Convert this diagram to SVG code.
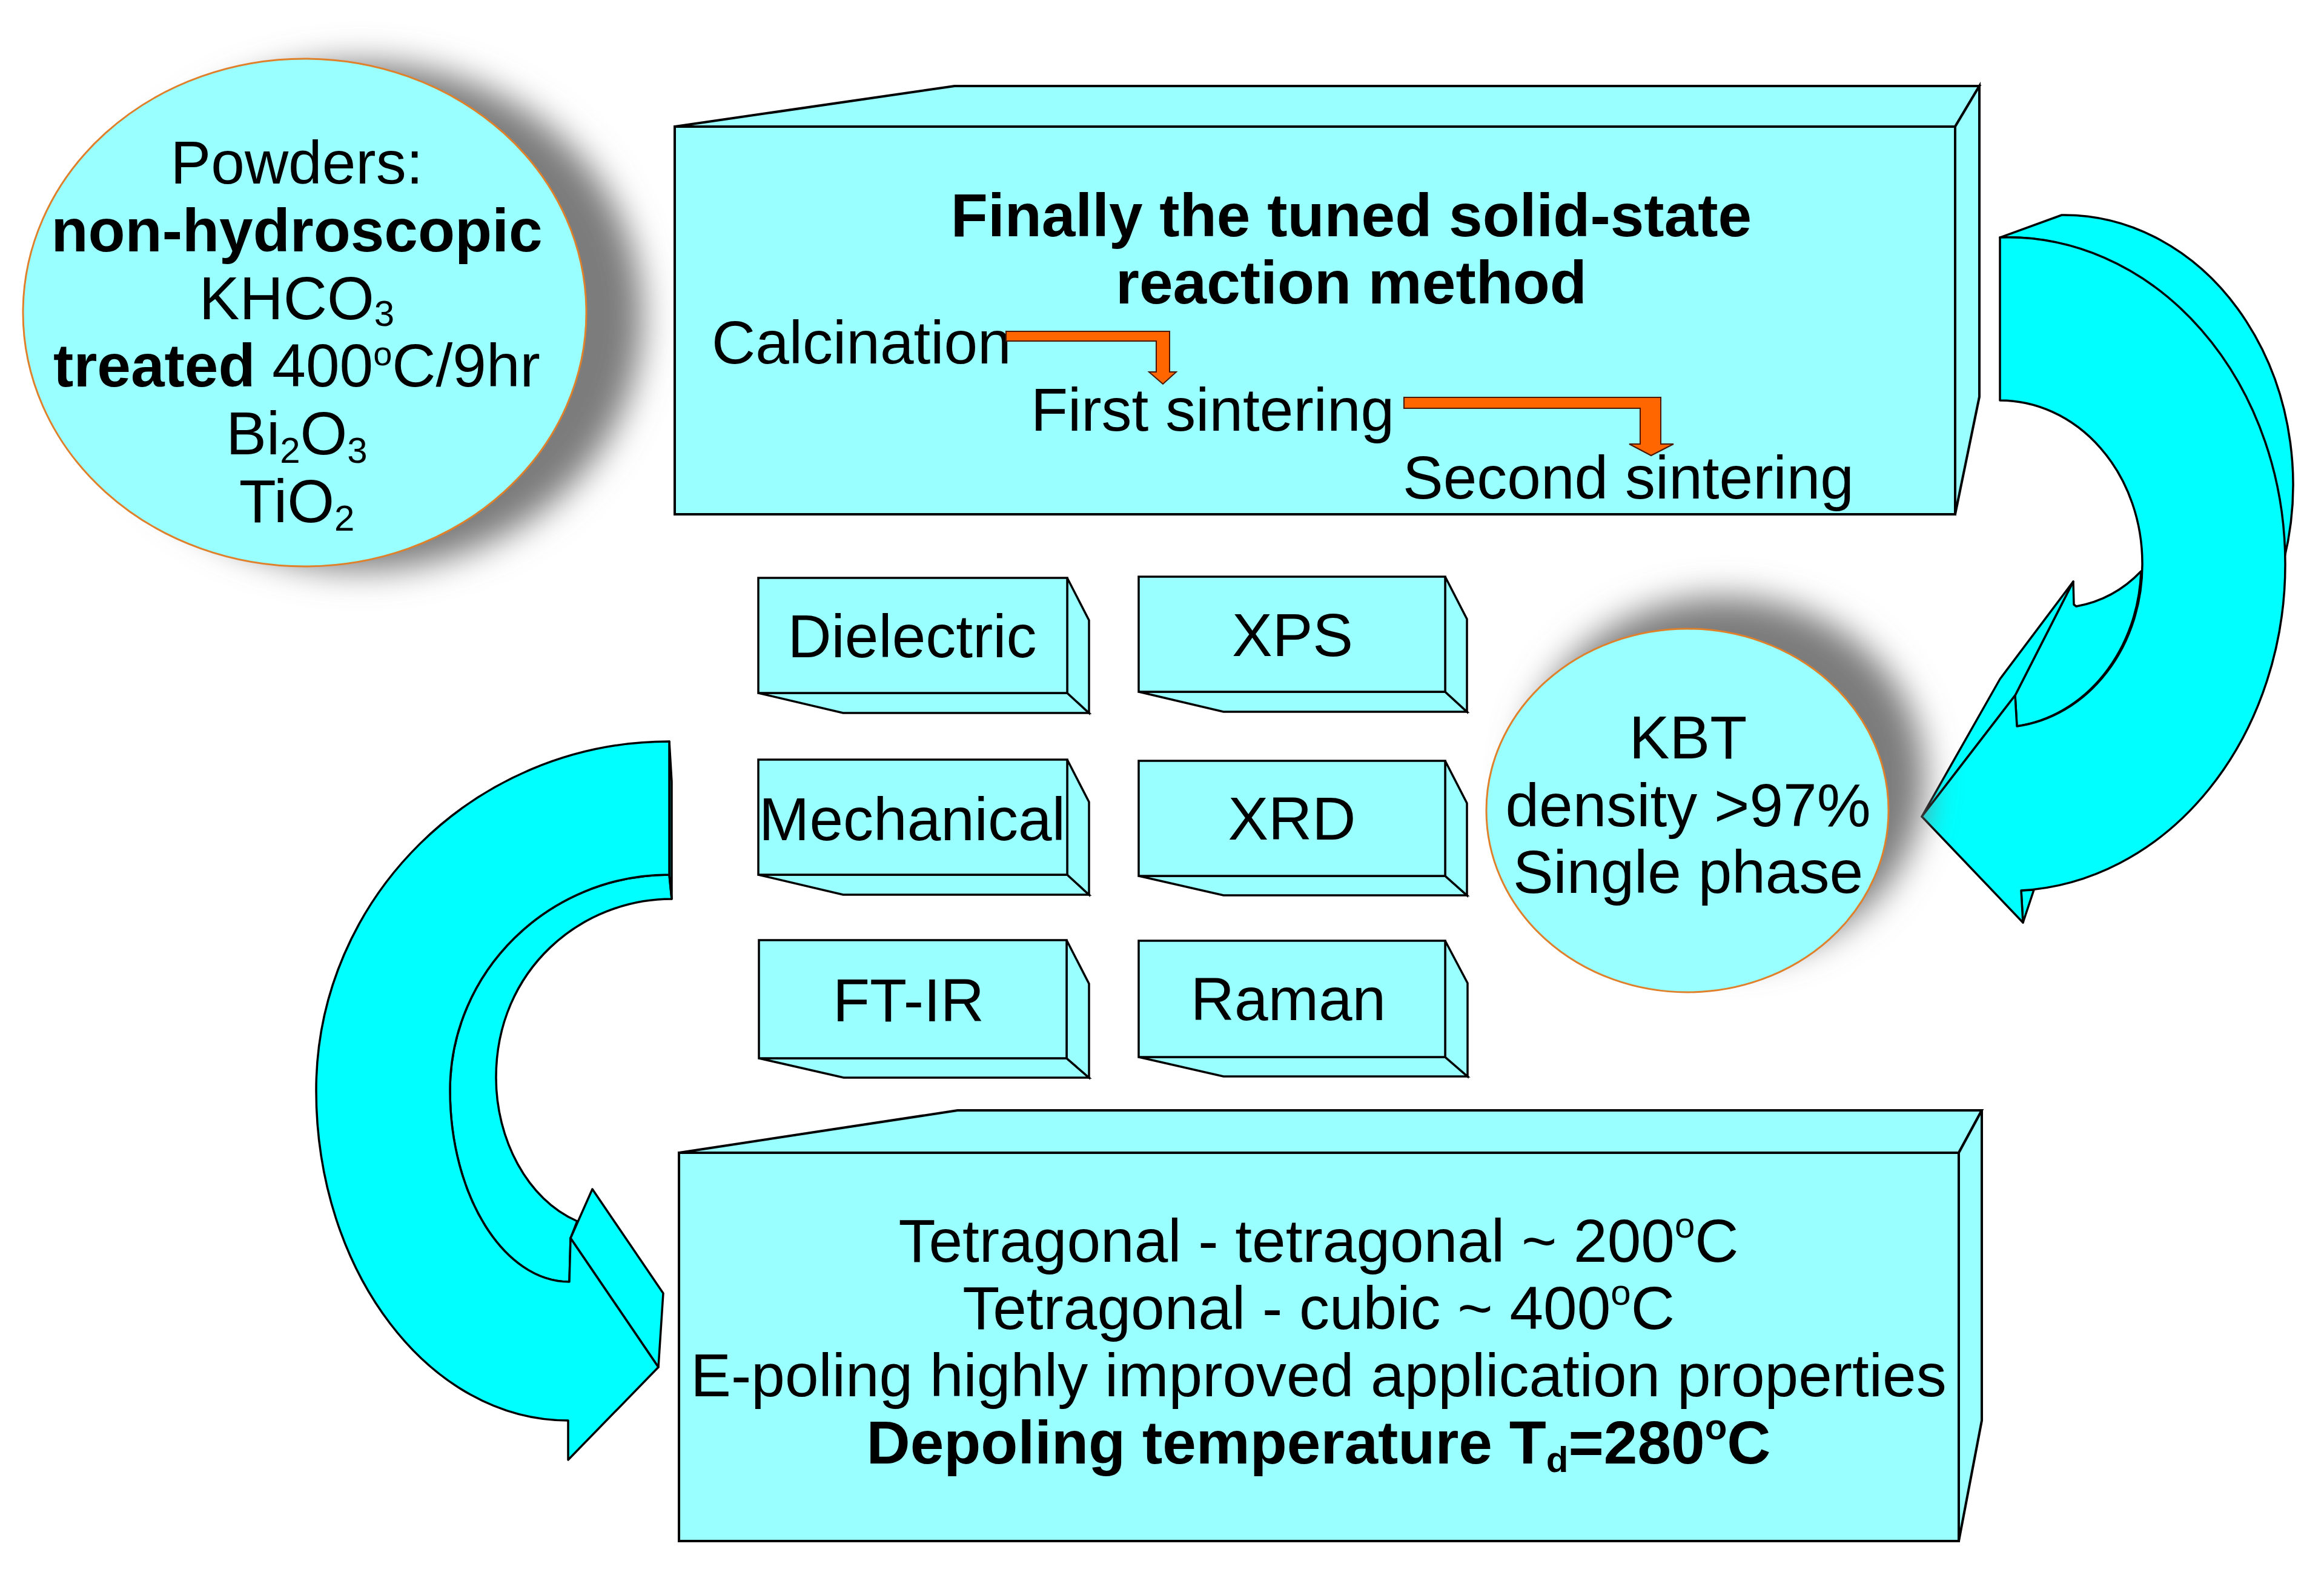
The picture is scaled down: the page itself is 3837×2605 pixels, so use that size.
<svg xmlns="http://www.w3.org/2000/svg" width="3837" height="2605" viewBox="0 0 3837 2605">
<style>
.box{fill:#99FFFF;stroke:#000;stroke-width:4;stroke-linejoin:miter}
.sbox{fill:#99FFFF;stroke:#000;stroke-width:3.5;stroke-linejoin:miter}
.arr{fill:#00FFFF;stroke:#000;stroke-width:3.5;stroke-linejoin:round}
.ell{fill:#99FFFF;stroke:#E0802A;stroke-width:3}
.shadow{fill:#7c7c7c;filter:url(#blur)}
.t{font-family:"Liberation Sans",Arial,Helvetica,sans-serif;font-size:100px;fill:#000}
.b{font-weight:bold}
.or{fill:#FF6600;stroke:#4a1800;stroke-width:2;stroke-linejoin:miter}
</style>
<defs>
<filter id="blur" x="-40%" y="-40%" width="180%" height="180%"><feGaussianBlur stdDeviation="28"/></filter>
</defs>
<rect width="3837" height="2605" fill="#fff"/>

<g id="powders">
<ellipse class="shadow" cx="596" cy="522" rx="465" ry="419"/>
<ellipse class="ell" cx="503" cy="516" rx="465" ry="419"/>
<text class="t" text-anchor="middle" x="490" y="303">Powders:</text>
<text class="t b" text-anchor="middle" x="490" y="415">non-hydroscopic</text>
<text class="t" text-anchor="middle" x="490" y="527">KHCO<tspan font-size="60" dy="11">3</tspan></text>
<text class="t" text-anchor="middle" x="490" y="638"><tspan class="b">treated</tspan> 400<tspan font-size="56" dy="-35">o</tspan><tspan dy="35">C/9hr</tspan></text>
<text class="t" text-anchor="middle" x="490" y="750">Bi<tspan font-size="60" dy="14">2</tspan><tspan dy="-14">O</tspan><tspan font-size="60" dy="14">3</tspan></text>
<text class="t" text-anchor="middle" x="490" y="862">TiO<tspan font-size="60" dy="14">2</tspan></text>
</g>

<g id="method">
<polygon class="box" points="1114,209 1576,142 3268,142 3228,209"/>
<polygon class="box" points="3228,209 3268,142 3268,655 3228,849"/>
<rect class="box" x="1114" y="209" width="2114" height="640"/>
<text class="t b" text-anchor="middle" x="2231" y="390">Finally the tuned solid-state</text>
<text class="t b" text-anchor="middle" x="2231" y="501">reaction method</text>
<text class="t" x="1175" y="600">Calcination</text>
<text class="t" x="1702" y="711">First sintering</text>
<text class="t" x="2316" y="823">Second sintering</text>
</g>

<g id="dielectric">
<polygon class="sbox" points="1252,1144 1392,1177 1798,1177 1762,1144"/>
<polygon class="sbox" points="1762,954 1798,1024 1798,1177 1762,1144"/>
<rect class="sbox" x="1252" y="954" width="510" height="190"/>
<text class="t" text-anchor="middle" x="1506" y="1085">Dielectric</text>
</g>
<g id="xps">
<polygon class="sbox" points="1880,1142 2020,1175 2422,1175 2386,1142"/>
<polygon class="sbox" points="2386,952 2422,1022 2422,1175 2386,1142"/>
<rect class="sbox" x="1880" y="952" width="506" height="190"/>
<text class="t" text-anchor="middle" x="2134" y="1083">XPS</text>
</g>
<g id="mechanical">
<polygon class="sbox" points="1252,1444 1392,1477 1798,1477 1762,1444"/>
<polygon class="sbox" points="1762,1254 1798,1324 1798,1477 1762,1444"/>
<rect class="sbox" x="1252" y="1254" width="510" height="190"/>
<text class="t" text-anchor="middle" x="1506" y="1387">Mechanical</text>
</g>
<g id="xrd">
<polygon class="sbox" points="1880,1446 2020,1478 2422,1478 2386,1446"/>
<polygon class="sbox" points="2386,1256 2422,1326 2422,1478 2386,1446"/>
<rect class="sbox" x="1880" y="1256" width="506" height="190"/>
<text class="t" text-anchor="middle" x="2133" y="1386">XRD</text>
</g>
<g id="ftir">
<polygon class="sbox" points="1253,1747 1393,1779 1798,1779 1761,1747"/>
<polygon class="sbox" points="1761,1552 1798,1624 1798,1779 1761,1747"/>
<rect class="sbox" x="1253" y="1552" width="508" height="195"/>
<text class="t" text-anchor="middle" x="1500" y="1686">FT-IR</text>
</g>
<g id="raman">
<polygon class="sbox" points="1880,1745 2020,1777 2423,1777 2386,1745"/>
<polygon class="sbox" points="2386,1553 2423,1623 2423,1777 2386,1745"/>
<rect class="sbox" x="1880" y="1553" width="506" height="192"/>
<text class="t" text-anchor="middle" x="2127" y="1684">Raman</text>
</g>

<g id="results">
<polygon class="box" points="1121,1903 1581,1833 3272,1833 3234,1903"/>
<polygon class="box" points="3234,1903 3272,1833 3272,2345 3234,2544"/>
<rect class="box" x="1121" y="1903" width="2113" height="641"/>
<text class="t" text-anchor="middle" x="2177" y="2083">Tetragonal - tetragonal ~ 200<tspan font-size="60" dy="-40">o</tspan><tspan dy="40">C</tspan></text>
<text class="t" text-anchor="middle" x="2177" y="2194">Tetragonal - cubic ~ 400<tspan font-size="60" dy="-40">o</tspan><tspan dy="40">C</tspan></text>
<text class="t" text-anchor="middle" x="2177" y="2305">E-poling highly improved application properties</text>
<text class="t b" text-anchor="middle" x="2177" y="2416">Depoling temperature T<tspan font-size="60" dy="14">d</tspan><tspan dy="-14">=280</tspan><tspan font-size="60" dy="-40">o</tspan><tspan dy="40">C</tspan></text>
</g>

<g id="connectors">
<path class="or" d="M1661,547 H1931 V614 H1942 L1920,634 L1897,614 H1909 V563 H1661 Z"/>
<path class="or" d="M2318,656 H2742 V733 H2763 L2726,752 L2690,733 H2708 V674 H2318 Z"/>
<g id="arrow-right">
<path class="arr" d="M3302,392 L3404,355 A378 445 0 0 1 3771,924 A458 539 0 0 0 3302,392 Z"/>
<path class="arr" d="M3535,943 Q3490,990 3428,1001 L3424,998 L3423,960 L3327,1148 L3330,1199 A235 269 0 0 0 3535,943 Z"/>
<path class="arr" d="M3423,960 L3302,1121 L3173,1348 L3327,1148 Z"/>
<path class="arr" d="M3337,1470 L3358,1469 L3340,1523 Z"/>
<path class="arr" d="M3302,392 A458 539 0 0 1 3773,931 A458 539 0 0 1 3337,1470 L3340,1523 L3173,1348 L3327,1148 L3330,1199 A235 269 0 0 0 3537,930 A235 269 0 0 0 3302,661 Z"/>
</g>
<g id="arrow-left">
<path class="arr" d="M1105,1444 C906,1444 743,1604 743,1800 C743,1974 832,2116 940,2116 L942,2044 L953,2016 C870,1980 819,1880 819,1779 C819,1600 960,1484 1109,1484 Z"/>
<path class="arr" d="M1105,1224 L1109,1290 L1109,1484 L1105,1444 Z"/>
<path class="arr" d="M942,2044 L978,1963 L1095,2135 L1087,2257 Z"/>
<path class="arr" d="M1105,1224 C784,1224 522,1483 522,1800 C522,2100 709,2345 938,2345 L938,2410 L1087,2257 L942,2044 L940,2116 C832,2116 743,1974 743,1800 C743,1604 906,1444 1105,1444 Z"/>
</g>
</g>

<g id="kbt">
<ellipse class="shadow" cx="2846" cy="1285" rx="332" ry="300"/>
<ellipse class="ell" cx="2786" cy="1338" rx="332" ry="300"/>
<text class="t" text-anchor="middle" x="2787" y="1252">KBT</text>
<text class="t" text-anchor="middle" x="2787" y="1364">density &gt;97%</text>
<text class="t" text-anchor="middle" x="2787" y="1474">Single phase</text>
</g>
</svg>
